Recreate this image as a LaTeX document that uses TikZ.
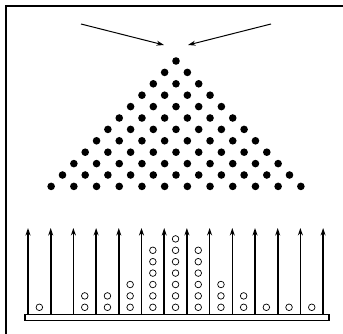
\documentclass[tikz,border=0pt]{standalone}
\usetikzlibrary{arrows.meta}
\begin{document}
\begin{tikzpicture}[x=1pt,y=-1pt,
	peg/.style={circle,fill=black,inner sep=0pt,minimum size=7.6pt},
	ball/.style={circle,draw,line width=0.7pt,inner sep=0pt,minimum size=6.6pt},
	wall/.style={line width=1.6pt,-{Stealth[length=7.5pt,width=5pt]}},
	feed/.style={line width=1pt,-{Stealth[length=7.5pt,width=5pt]}}]
		\useasboundingbox (0,0) rectangle (343,334);
		\draw[line width=2pt] (6,334) -- (6,6) -- (343,6);
		% incoming arrows
		\coordinate (L) at (81,24);
		\coordinate (R) at (271,24);
		\coordinate (LT) at (164,45);
		\coordinate (RT) at (188,45);
		\draw[feed] (L) -- (LT);
		\draw[feed] (R) -- (RT);
		% pegs
		\foreach \r in {0,...,11}
			\foreach \k in {0,...,\r}
				\node[peg] (p-\r-\k) at ({176+(\k-\r/2)*22.7},{61+\r*11.4}) {};
		% tray and walls
		\draw[line width=1.4pt,fill=white] (25,314.5) rectangle (329,320.5);
		\foreach \i in {0,...,13} {
			\coordinate (w-\i) at ({28+\i*22.7},314.5);
			\coordinate (t-\i) at ({28+\i*22.7},228);
			\draw[wall] (w-\i) -- (t-\i);
		}
		% balls
		\foreach \b/\n in {1/1,3/2,4/2,5/3,6/6,7/7,8/6,9/3,10/2,11/1,12/1,13/1}
			\foreach \j in {1,...,\n}
				\node[ball] (b-\b-\j) at ({28+(\b-0.5)*22.7},{307.3-(\j-1)*11.4}) {};
	\end{tikzpicture}
\end{document}
